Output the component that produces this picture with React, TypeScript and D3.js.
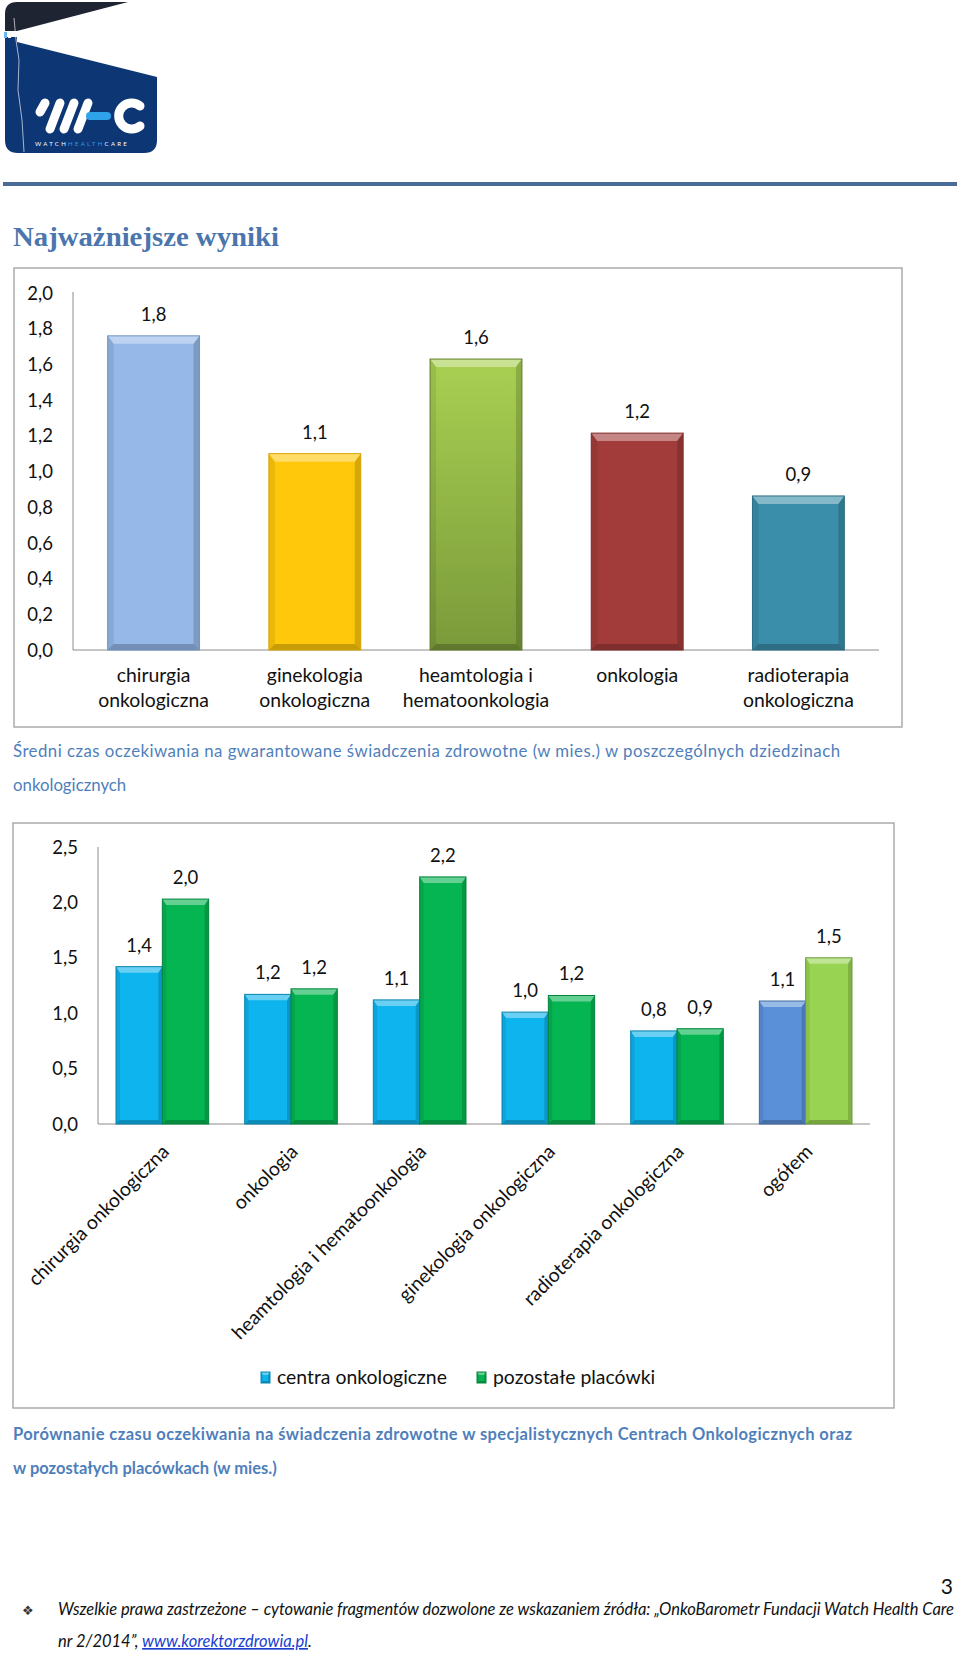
import React from "react";
import * as d3 from "d3";

// ---------- data ----------
const fieldsA = [
  "chirurgia onkologiczna",
  "ginekologia onkologiczna",
  "heamtologia i hematoonkologia",
  "onkologia",
  "radioterapia onkologiczna",
];
const fieldsALines = [
  ["chirurgia", "onkologiczna"],
  ["ginekologia", "onkologiczna"],
  ["heamtologia i", "hematoonkologia"],
  ["onkologia"],
  ["radioterapia", "onkologiczna"],
];
const waitA = [1.76, 1.1, 1.63, 1.215, 0.863];
const colorsA = ["#95b8e8", "#ffc80a", "url(#gradGreenA)", "#a13c3a", "#3a8ea9"];
const edgeA = ["#6f93c4", "#d9a400", "#5f7d2a", "#7c2a29", "#2a6e85"];
const ticksA = [0, 0.2, 0.4, 0.6, 0.8, 1.0, 1.2, 1.4, 1.6, 1.8, 2.0];

const fieldsB = [
  "chirurgia onkologiczna",
  "onkologia",
  "heamtologia i hematoonkologia",
  "ginekologia onkologiczna",
  "radioterapia onkologiczna",
  "ogółem",
];
const seriesB = ["centra onkologiczne", "pozostałe placówki"];
const centra = [1.42, 1.17, 1.12, 1.01, 0.84, 1.11];
const pozostale = [2.03, 1.22, 2.23, 1.16, 0.86, 1.5];
const centraColors = ["#0db4ee", "#0db4ee", "#0db4ee", "#0db4ee", "#0db4ee", "#5a90d8"];
const pozostaleColors = ["#05b552", "#05b552", "#05b552", "#05b552", "#05b552", "#98d452"];
const ticksB = [0, 0.5, 1.0, 1.5, 2.0, 2.5];

const fmt = (v: number) => d3.format(".1f")(v).replace(".", ",");

const SANS = "Lato, 'Open Sans', sans-serif";
const SERIF = "'Liberation Serif', 'DejaVu Serif', serif";
const BLUE_TXT = "#4f7fbb";
const NUM_SIZE = 18.5;
const CAT_SIZE = 19.4;

function BevelBar({ x, y, w, h, fill, edge, t, s }: any) {
  const b = y + h;
  return (
    <g>
      <rect x={x} y={y} width={w} height={h} fill={fill} />
      <polygon
        points={`${x},${y} ${x + w},${y} ${x + w - s},${y + t} ${x + s},${y + t}`}
        fill="#ffffff"
        opacity={0.38}
      />
      <polygon
        points={`${x},${y} ${x + s},${y + t} ${x + s},${b - s} ${x},${b}`}
        fill="#000"
        opacity={0.08}
      />
      <polygon
        points={`${x + w},${y} ${x + w - s},${y + t} ${x + w - s},${b - s} ${x + w},${b}`}
        fill="#000"
        opacity={0.16}
      />
      <polygon
        points={`${x},${b} ${x + s},${b - s} ${x + w - s},${b - s} ${x + w},${b}`}
        fill="#000"
        opacity={0.22}
      />
      <rect x={x} y={y} width={w} height={h} fill="none" stroke={edge} strokeWidth={1} />
    </g>
  );
}

function Logo() {
  return (
    <g>
      <path d="M5,14 Q5,2 17,2 L128,2 L17,31 L5,31 Z" fill="#1f2433" />
      <path d="M5,37 L17,37 L17,42 L157,77 L157,140 Q157,153 144,153 L18,153 Q5,153 5,140 Z" fill="#0d3674" />
      <path d="M14,18 L16,40 L19,60 L18,90 L22,120 L24,152" stroke="#ffffff" strokeWidth={0.8} fill="none" opacity={0.8} />
      <rect x={4} y={32} width={3} height={6} fill="#6ab8f0" />
      <rect x={8} y={32} width={3} height={6} fill="#ffffff" />
      <g stroke="#ffffff" strokeWidth={9} strokeLinecap="round" fill="none">
        <line x1={40} y1={112} x2={45} y2={103} />
        <line x1={50} y1={129} x2={60} y2={103} />
        <line x1={64} y1={129} x2={74} y2={103} />
        <line x1={78} y1={129} x2={88} y2={103} />
        <path d="M140,106 A13,13 0 1 0 140,126" />
      </g>
      <line x1={90} y1={116} x2={107} y2={116} stroke="#2fa3ea" strokeWidth={8} strokeLinecap="round" />
      <text x={35} y={146} fontFamily={SANS} fontSize={6} letterSpacing={2.3} fill="#ffffff">
        WATCH<tspan fill="#2f9de6">HEALTH</tspan>CARE
      </text>
    </g>
  );
}

export default function App() {
  // ---------- chart A ----------
  const xA = d3.scaleBand<string>().domain(fieldsA).range([73, 879]).paddingInner(0.43).paddingOuter(0.215);
  const yA = d3.scaleLinear().domain([0, 2]).range([650, 293]);

  // ---------- chart B ----------
  const xB = d3.scaleBand<string>().domain(fieldsB).range([98, 870]).paddingInner(0.28).paddingOuter(0.14);
  const xBInner = d3.scaleBand<string>().domain(seriesB).range([0, xB.bandwidth()]).padding(0);
  const yB = d3.scaleLinear().domain([0, 2.5]).range([1124, 847]);

  return (
    <svg
      width={960}
      height={1653}
      viewBox="0 0 960 1653"
      style={{ position: "absolute", left: 0, top: 0, display: "block", background: "#fff" }}
    >
      <defs>
        <linearGradient id="gradGreenA" x1="0" y1="0" x2="0" y2="1">
          <stop offset="0" stopColor="#a9d052" />
          <stop offset="1" stopColor="#7a9a3a" />
        </linearGradient>
      </defs>
      <rect x={0} y={0} width={960} height={1653} fill="#ffffff" />

      <Logo />
      <rect x={3} y={182} width={954} height={4} fill="#4a6a9a" />

      <text x={13} y={246} fontFamily={SERIF} fontWeight="bold" fontSize={27} fill="#4b76ad" textLength={266} lengthAdjust="spacingAndGlyphs">
        Najważniejsze wyniki
      </text>

      {/* ---------- chart A frame ---------- */}
      <rect x={14} y={268} width={888} height={459} fill="#fff" stroke="#a6a6a6" strokeWidth={1.4} />
      <line x1={73} y1={292} x2={73} y2={650} stroke="#8c8c8c" strokeWidth={1} />
      <line x1={73} y1={650} x2={879} y2={650} stroke="#8c8c8c" strokeWidth={1} />
      {ticksA.map((t) => (
        <text key={t} x={53} y={yA(t)} dy="0.36em" textAnchor="end" fontFamily={SANS} fontSize={NUM_SIZE} fill="#111">
          {fmt(t)}
        </text>
      ))}
      {fieldsA.map((f, i) => {
        const x = xA(f) as number;
        const w = xA.bandwidth();
        const y = yA(waitA[i]);
        return (
          <g key={f}>
            <BevelBar x={x} y={y} w={w} h={yA(0) - y} fill={colorsA[i]} edge={edgeA[i]} t={8} s={6} />
            <text x={x + w / 2} y={y - 15} textAnchor="middle" fontFamily={SANS} fontSize={NUM_SIZE} fill="#111">
              {fmt(waitA[i])}
            </text>
            {fieldsALines[i].map((ln, k) => (
              <text key={k} x={x + w / 2} y={682 + k * 25} textAnchor="middle" fontFamily={SANS} fontSize={CAT_SIZE} fill="#111">
                {ln}
              </text>
            ))}
          </g>
        );
      })}

      <text x={13} y={757} fontFamily={SANS} fontSize={16.8} fill={BLUE_TXT} textLength={827} lengthAdjust="spacing">
        Średni czas oczekiwania na gwarantowane świadczenia zdrowotne (w mies.) w poszczególnych dziedzinach
      </text>
      <text x={13} y={791} fontFamily={SANS} fontSize={16.8} fill={BLUE_TXT}>
        onkologicznych
      </text>

      {/* ---------- chart B frame ---------- */}
      <rect x={13} y={823} width={881} height={585} fill="#fff" stroke="#a6a6a6" strokeWidth={1.4} />
      <line x1={98} y1={847} x2={98} y2={1124} stroke="#8c8c8c" strokeWidth={1} />
      <line x1={98} y1={1124} x2={870} y2={1124} stroke="#8c8c8c" strokeWidth={1} />
      {ticksB.map((t) => (
        <text key={t} x={78} y={yB(t)} dy="0.36em" textAnchor="end" fontFamily={SANS} fontSize={NUM_SIZE} fill="#111">
          {fmt(t)}
        </text>
      ))}
      {fieldsB.map((f, i) => {
        const gx = xB(f) as number;
        const bw = xBInner.bandwidth();
        const vals = [centra[i], pozostale[i]];
        const fills = [centraColors[i], pozostaleColors[i]];
        const cx = gx + xB.bandwidth() / 2;
        return (
          <g key={f}>
            {seriesB.map((s, k) => {
              const x = gx + (xBInner(s) as number);
              const y = yB(vals[k]);
              const edge = d3.color(fills[k])!.darker(0.9).formatHex();
              return (
                <g key={s}>
                  <BevelBar x={x} y={y} w={bw} h={yB(0) - y} fill={fills[k]} edge={edge} t={6} s={4} />
                  <text x={x + bw / 2} y={y - 15} textAnchor="middle" fontFamily={SANS} fontSize={NUM_SIZE} fill="#111">
                    {fmt(vals[k])}
                  </text>
                </g>
              );
            })}
            <text
              transform={`translate(${cx + 8},${1153}) rotate(-45)`}
              textAnchor="end"
              fontFamily={SANS}
              fontSize={CAT_SIZE}
              fill="#111"
            >
              {f}
            </text>
          </g>
        );
      })}

      {/* legend */}
      {seriesB.map((s, k) => {
        const lx = [261, 477][k];
        const col = ["#0db4ee", "#05b552"][k];
        return (
          <g key={s}>
            <BevelBar x={lx} y={1372} w={9} h={11} fill={col} edge={d3.color(col)!.darker(0.9).formatHex()} t={3} s={2} />
            <text x={lx + 16} y={1384} fontFamily={SANS} fontSize={CAT_SIZE} fill="#111">
              {s}
            </text>
          </g>
        );
      })}

      <text x={13} y={1440} fontFamily={SANS} fontWeight="bold" fontSize={16.5} fill={BLUE_TXT} textLength={839} lengthAdjust="spacing">
        Porównanie czasu oczekiwania na świadczenia zdrowotne w specjalistycznych Centrach Onkologicznych oraz
      </text>
      <text x={13} y={1474} fontFamily={SANS} fontWeight="bold" fontSize={16.5} fill={BLUE_TXT}>
        w pozostałych placówkach (w mies.)
      </text>

      {/* footer */}
      <text x={953} y={1594} textAnchor="end" fontFamily={SANS} fontSize={21} fill="#111">
        3
      </text>
      <text x={22} y={1615} fontFamily="'DejaVu Sans', sans-serif" fontSize={13} fill="#333">
        ❖
      </text>
      <text x={58} y={1615} fontFamily={SANS} fontStyle="italic" fontSize={16.5} fill="#111" textLength={896} lengthAdjust="spacing">
        Wszelkie prawa zastrzeżone – cytowanie fragmentów dozwolone ze wskazaniem źródła: „OnkoBarometr Fundacji Watch Health Care
      </text>
      <text x={58} y={1647} fontFamily={SANS} fontStyle="italic" fontSize={16.5} fill="#111">
        nr 2/2014”,{" "}
        <tspan fill="#1a3fd0" textDecoration="underline">
          www.korektorzdrowia.pl
        </tspan>
        .
      </text>
    </svg>
  );
}
